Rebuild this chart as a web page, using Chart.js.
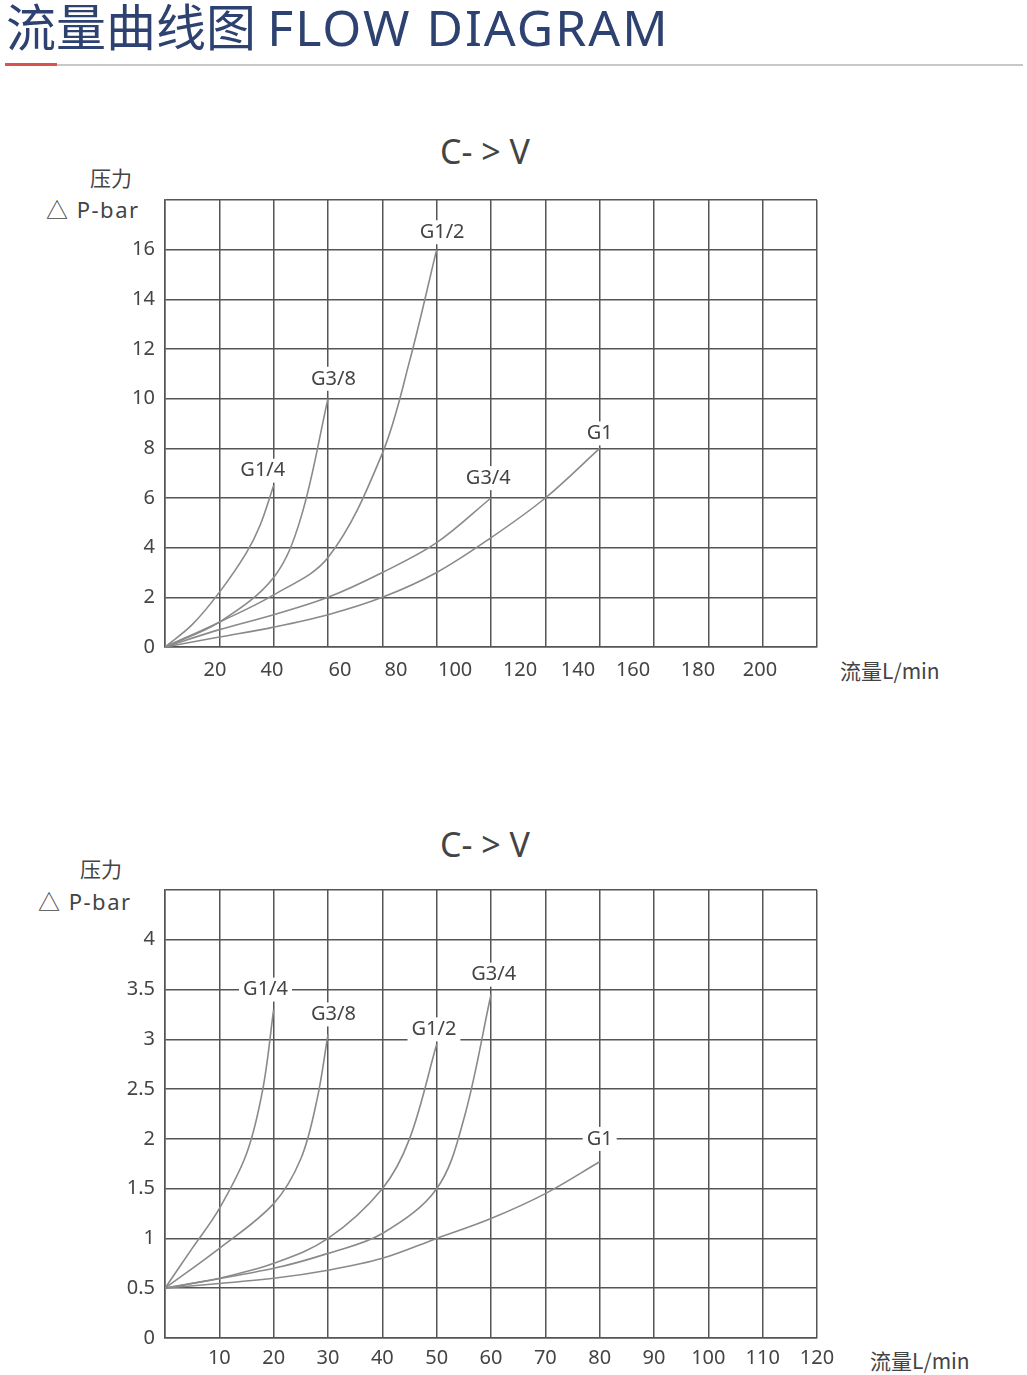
<!DOCTYPE html>
<html><head><meta charset="utf-8">
<script src="https://cdn.jsdelivr.net/npm/chart.js@4"></script>
<style>
body{margin:0;background:#fff;width:1027px;height:1375px;position:relative;overflow:hidden;font-family:"Noto Sans","Noto Sans CJK SC",sans-serif;}
.t{position:absolute;white-space:nowrap;color:#444;}
canvas{position:absolute;}
</style></head><body>
<div class="t" style="left:6px;top:-12px;font-size:50px;color:#2d4270;font-family:'Noto Sans CJK SC';">流量曲线图 <span style="font-family:'Noto Sans';letter-spacing:2px;">FLOW DIAGRAM</span></div>
<div style="position:absolute;left:5px;top:64px;width:1018px;height:2px;background:#c8c8c8"></div>
<div style="position:absolute;left:5px;top:63px;width:52px;height:3px;background:#d9534f"></div>

<div class="t" style="left:440px;top:128px;font-size:34px;">C- &gt; V</div>
<div class="t" style="left:90px;top:162px;font-size:21px;font-family:'Noto Sans CJK SC';">压力</div>
<div class="t" style="left:46px;top:192px;font-size:22px;letter-spacing:1.5px;">△ P-bar</div>
<div class="t" style="left:840px;top:655px;font-size:21px;font-family:'Noto Sans CJK SC';">流量L/min</div>

<div class="t" style="left:440px;top:821px;font-size:34px;">C- &gt; V</div>
<div class="t" style="left:80px;top:853px;font-size:21px;font-family:'Noto Sans CJK SC';">压力</div>
<div class="t" style="left:38px;top:884px;font-size:22px;letter-spacing:1.5px;">△ P-bar</div>
<div class="t" style="left:870px;top:1345px;font-size:21px;font-family:'Noto Sans CJK SC';">流量L/min</div>

<canvas id="c1" style="left:0;top:178px;width:1027px;height:512px"></canvas>
<canvas id="c2" style="left:0;top:868px;width:1027px;height:513px"></canvas>
<script>
// Top chart data (x: L/min, y: bar)
const topNames=["G1/4","G3/8","G1/2","G3/4","G1"];
const topG14=[[0,0],[10,0.9],[20,2.2],[30,3.8],[35,4.9],[40,6.5]];
const topG38=[[0,0],[20,1.0],[40,2.8],[50,5.2],[60,10]];
const topG12=[[0,0],[20,1],[40,2.1],[60,3.6],[80,7.8],[90,11.5],[100,16]];
const topG34=[[0,0],[20,0.7],[40,1.3],[60,2],[80,3],[100,4.2],[120,6]];
const topG1=[[0,0],[20,0.4],[40,0.8],[60,1.3],[80,2],[100,3],[120,4.4],[140,6],[160,8]];
const topLabelPos=[[36,7.1],[62,10.8],[102,16.7],[119,6.8],[160,8.6]];
const topTickLabels=[20,40,60,80,100,120,140,160,180,200];
const topTickPos=[18.4,39.4,64.4,85,106.8,130.7,152,172.3,196.2,219];
const topYLabels=[0,2,4,6,8,10,12,14,16];
// Bottom chart data
const botNames=["G1/4","G3/8","G1/2","G3/4","G1"];
const botG14=[[0,.5],[5,.9],[10,1.3],[15,1.85],[18,2.5],[20,3.3]];
const botG38=[[0,.5],[10,.9],[20,1.35],[25,1.8],[28,2.4],[30,3.05]];
const botG12=[[0,.5],[10,.6],[20,.75],[30,1],[40,1.5],[45,2],[50,2.95]];
const botG34=[[0,.5],[20,.7],[30,.85],[40,1.05],[50,1.5],[55,2.2],[60,3.45]];
const botG1=[[0,.5],[20,.6],[30,.68],[40,.8],[50,1],[60,1.2],[70,1.45],[80,1.77]];
const botLabelPos=[[18.5,3.5],[31,3.25],[49.5,3.1],[60.5,3.65],[80,2.0]];
const botYLabels=[0,0.5,1,1.5,2,2.5,3,3.5,4];

const FONT={family:"Noto Sans",size:20};
function mk(id,series,names,labelPos,xmax,xstep,ymax,ystep,yLabels,xTicks){
  const ds=series.map(s=>({data:s.map(p=>({x:p[0],y:p[1]})),borderColor:"#8a8a8a",borderWidth:1.6,pointRadius:0,tension:0.35,fill:false}));
  const labelPlugin={id:'lbl',afterDatasetsDraw(ch){
    const c=ch.ctx,xs=ch.scales.x,ys=ch.scales.y;
    c.save();c.font="20px Noto Sans";c.textAlign="center";c.textBaseline="middle";
    names.forEach((n,i)=>{const px=xs.getPixelForValue(labelPos[i][0]),py=ys.getPixelForValue(labelPos[i][1]);
      const w=c.measureText(n).width+8;c.fillStyle="#fff";c.fillRect(px-w/2,py-12,w,24);c.fillStyle="#444";c.fillText(n,px,py);});
    if(xTicks){xTicks.pos.forEach((v,i)=>{c.fillText(String(xTicks.labels[i]),xs.getPixelForValue(v),ch.chartArea.bottom+23);});}
    c.restore();}};
  return new Chart(document.getElementById(id),{type:'line',data:{datasets:ds},plugins:[labelPlugin],
    options:{responsive:false,animation:false,layout:{padding:{top:9,right:210,left:0,bottom:0}},
      plugins:{legend:{display:false},tooltip:{enabled:false}},
      scales:{
        x:{type:'linear',min:0,max:xmax,border:{color:"#555",width:1.5},
          grid:{color:"#555",lineWidth:1.5,drawTicks:false},
          afterFit(s){s.height=43;},
          ticks:{stepSize:xstep,display:!xTicks,color:"#444",font:FONT,padding:8,callback:v=>v===0?'':v}},
        y:{type:'linear',min:0,max:ymax,border:{color:"#555",width:1.5},
          grid:{color:"#555",lineWidth:1.5,drawTicks:false},
          afterFit(s){s.width=165;},
          ticks:{stepSize:ystep,color:"#444",font:FONT,padding:10,callback:v=>yLabels.includes(v)?String(v):''}}
      }}});
}
function size(id,h){const c=document.getElementById(id);c.width=1027;c.height=h;}
size('c1',512);size('c2',513);
mk('c1',[topG14,topG38,topG12,topG34,topG1],topNames,topLabelPos,240,20,18,2,topYLabels,{pos:topTickPos,labels:topTickLabels});
mk('c2',[botG14,botG38,botG12,botG34,botG1],botNames,botLabelPos,120,10,4.5,0.5,botYLabels,null);
</script>
</body></html>
